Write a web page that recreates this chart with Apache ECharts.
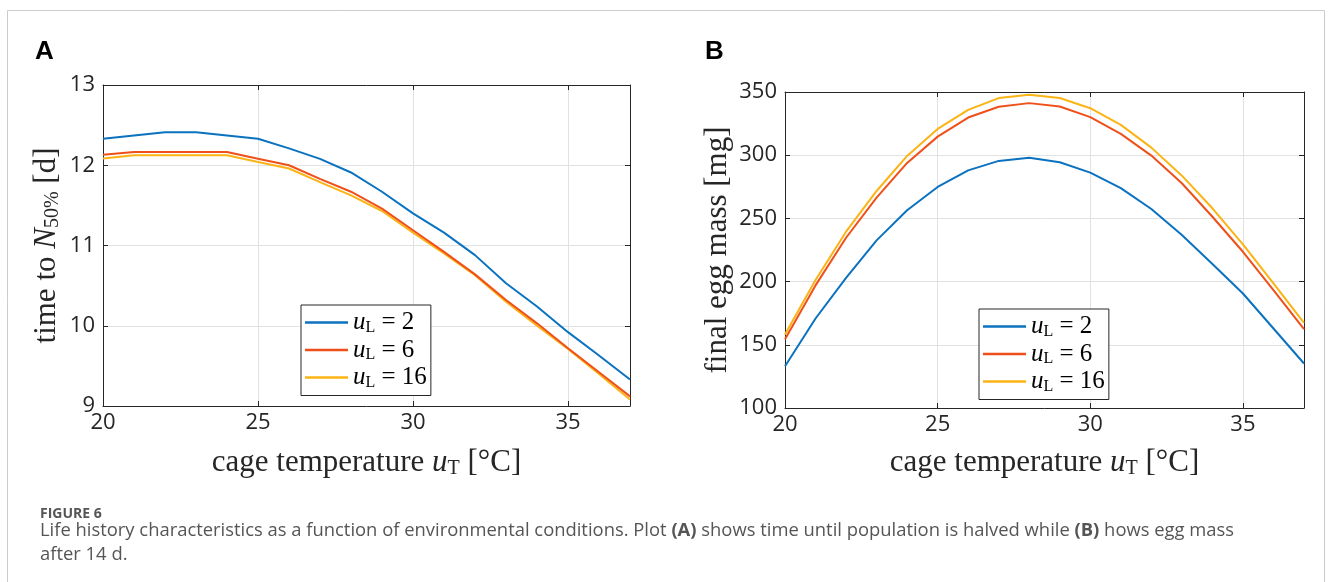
<!DOCTYPE html>
<html><head><meta charset="utf-8">
<script src="https://cdn.jsdelivr.net/npm/echarts@6/dist/echarts.min.js"></script>
<style>html,body{margin:0;padding:0;background:#fff}#c{width:1331px;height:582px}</style>
</head><body><div id="c"></div>
<script>
const temps = [20,21,22,23,24,25,26,27,28,29,30,31,32,33,34,35,36,37];
const seriesNames = ['uL2','uL6','uL16'];
const legendValues = ['2','6','16'];
// Panel A: time to N50% [d]
const timeUL2  = [12.33,12.37,12.41,12.41,12.37,12.33,12.21,12.08,11.91,11.67,11.40,11.16,10.88,10.53,10.24,9.92,9.63,9.33];
const timeUL6  = [12.13,12.165,12.165,12.165,12.165,12.08,12.00,11.83,11.67,11.46,11.19,10.92,10.64,10.32,10.03,9.72,9.42,9.12];
const timeUL16 = [12.085,12.125,12.125,12.125,12.125,12.04,11.96,11.79,11.625,11.43,11.16,10.90,10.63,10.30,10.00,9.71,9.40,9.08];
// Panel B: final egg mass [mg]
const massUL2  = [133,170.8,203,232.6,256.4,274.9,288,295.5,297.9,294.4,286.2,273.9,257.4,236.8,213.9,190.6,162.9,135.2];
const massUL6  = [154.4,197,234.7,266.4,293.9,314.7,329.8,338.3,341.2,338.5,330.1,316.9,299.7,277.8,251.3,223.6,193.3,162.4];
const massUL16 = [158.2,201.2,239.5,271.7,299.4,320.8,335.9,345.2,347.8,345.2,337.2,324,306,283.8,258,229.5,198.6,167.4];
const xTicks = {min:20, max:37, interval:5};
const yTicksA = {min:9, max:13, interval:1};
const yTicksB = {min:100, max:350, interval:50};

const colors = ['#0b72c0','#ef5019','#fcb314'];
const axisColor = '#262626';
const serif = '"Liberation Serif","DejaVu Serif",serif';
const sans = '"Open Sans","Noto Sans",sans-serif';

const richMath = {
  i:{fontFamily:serif, fontStyle:'italic', fontSize:31, lineHeight:32, color:axisColor},
  s:{fontFamily:serif, fontSize:20, lineHeight:16, verticalAlign:'bottom', color:axisColor},
  t:{fontFamily:serif, fontSize:31, lineHeight:32, color:axisColor}
};
const richLeg = {
  i:{fontFamily:serif, fontStyle:'italic', fontSize:25, lineHeight:26, color:'#000'},
  s:{fontFamily:serif, fontSize:16, lineHeight:13, verticalAlign:'bottom', color:'#000'},
  t:{fontFamily:serif, fontSize:25, lineHeight:26, color:'#000'}
};

function pair(xs, ys){ return xs.map((x,i)=>[x, ys[i]]); }

const grids = [
  {left:103, top:85, width:527, height:321},
  {left:785, top:92, width:519, height:316}
];

function xAxes(gi, gap){
  return [
    {gridIndex:gi, type:'value', min:xTicks.min, max:xTicks.max, interval:xTicks.interval,
     axisLine:{show:true, onZero:false, lineStyle:{color:axisColor, width:1}},
     axisTick:{show:true, inside:true, length:5, lineStyle:{color:axisColor}},
     axisLabel:{margin:6, fontFamily:sans, fontSize:22, color:axisColor, showMaxLabel:false},
     splitLine:{show:true, lineStyle:{color:'#e2e2e2', width:1}},
     name:'{t|cage temperature }{i|u}{s|T}{t| [°C]}', nameLocation:'middle', nameGap:gap,
     nameTextStyle:{rich:richMath}},
    {gridIndex:gi, type:'value', position:'top', min:xTicks.min, max:xTicks.max, interval:xTicks.interval,
     axisLine:{show:true, onZero:false, lineStyle:{color:axisColor, width:1}},
     axisTick:{show:true, inside:true, length:5, lineStyle:{color:axisColor}},
     axisLabel:{show:false}, splitLine:{show:false}}
  ];
}
function yAxes(gi, t, name, gap){
  return [
    {gridIndex:gi, type:'value', min:t.min, max:t.max, interval:t.interval,
     axisLine:{show:true, onZero:false, lineStyle:{color:axisColor, width:1}},
     axisTick:{show:true, inside:true, length:5, lineStyle:{color:axisColor}},
     axisLabel:{margin:8, fontFamily:sans, fontSize:22, color:axisColor},
     splitLine:{show:true, lineStyle:{color:'#e2e2e2', width:1}},
     name:name, nameLocation:'middle', nameGap:gap, nameRotate:90,
     nameTextStyle:{rich:richMath}},
    {gridIndex:gi, type:'value', position:'right', min:t.min, max:t.max, interval:t.interval,
     axisLine:{show:true, onZero:false, lineStyle:{color:axisColor, width:1}},
     axisTick:{show:true, inside:true, length:5, lineStyle:{color:axisColor}},
     axisLabel:{show:false}, splitLine:{show:false}}
  ];
}

const dataA = [timeUL2, timeUL6, timeUL16];
const dataB = [massUL2, massUL6, massUL16];
const series = [];
dataA.forEach((d,k)=>series.push({name:seriesNames[k], type:'line', xAxisIndex:0, yAxisIndex:0,
  data:pair(temps,d), symbol:'none', lineStyle:{width:2, color:colors[k]}, itemStyle:{color:colors[k]}, z:3-k+2, animation:false}));
dataB.forEach((d,k)=>series.push({name:seriesNames[k], type:'line', xAxisIndex:2, yAxisIndex:2,
  data:pair(temps,d), symbol:'none', lineStyle:{width:2, color:colors[k]}, itemStyle:{color:colors[k]}, z:3-k+2, animation:false}));

function legendFmt(name){ const k = seriesNames.indexOf(name); return '{i|u}{s|L}{t| = '+legendValues[k]+'}'; }
function legend(left, top){
  return {show:true, orient:'vertical', left:left, top:top,
    data:seriesNames.map(n=>({name:n, icon:'rect'})), formatter:legendFmt,
    itemWidth:43, itemHeight:2.5, itemGap:2, padding:[5,4,5,4],
    borderColor:'#262626', borderWidth:1, backgroundColor:'#fff', selectedMode:false,
    textStyle:{rich:richLeg}};
}

const option = {
  animation:false,
  backgroundColor:'#fff',
  grid:grids,
  xAxis:[...xAxes(0, 41), ...xAxes(1, 39)],
  yAxis:[...yAxes(0, yTicksA, '{t|time to }{i|N}{s|50%}{t| [d]}', 40), ...yAxes(1, yTicksB, '{t|final egg mass [mg]}', 51)],
  legend:[legend(301,305), legend(979,309)],
  series:series,
  graphic:[
    {type:'rect', shape:{x:7.5, y:10.5, width:1317, height:620}, style:{fill:'none', stroke:'#cccccc', lineWidth:1}, silent:true},
    {type:'text', left:35, top:39, style:{text:'A', font:'bold 26px "Liberation Sans",Arial,sans-serif', fill:'#000'}},
    {type:'text', left:705, top:39, style:{text:'B', font:'bold 26px "Liberation Sans",Arial,sans-serif', fill:'#000'}},
    {type:'text', left:40, top:507, style:{text:'FIGURE 6', font:'bold 14px "Open Sans","Noto Sans",sans-serif', fill:'#555'}},
    {type:'text', left:40, top:522, style:{
      text:'{r|Life history characteristics as a function of environmental conditions. Plot }{b|(A)}{r| shows time until population is halved while }{b|(B)}{r| hows egg mass}\n{r|after 14 d.}',
      rich:{r:{font:'18.4px "Open Sans","Noto Sans",sans-serif', fill:'#555', lineHeight:24},
            b:{font:'bold 18.4px "Open Sans","Noto Sans",sans-serif', fill:'#555', lineHeight:24}}}}
  ]
};
const chart = echarts.init(document.getElementById('c'));
chart.setOption(option);
</script></body></html>
